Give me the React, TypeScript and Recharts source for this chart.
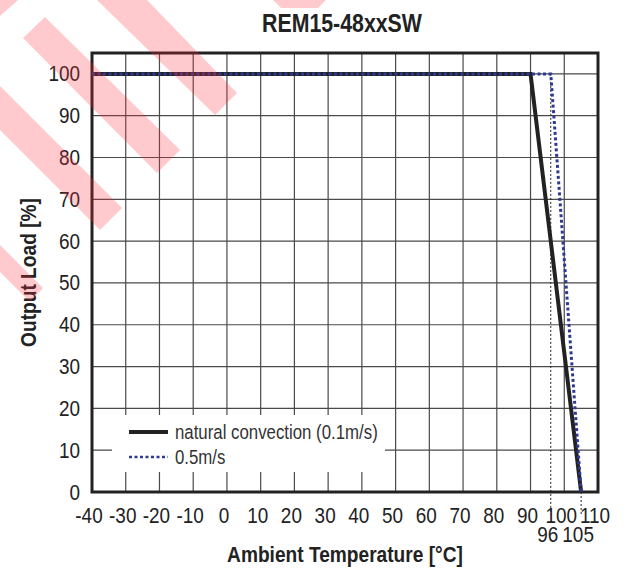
import React from 'react';
import {
  LineChart,
  Line,
  XAxis,
  YAxis,
  CartesianGrid,
  ReferenceLine,
  ReferenceArea,
  Legend,
  Label,
} from 'recharts';

// data
const naturalTemps = [-40, 90, 105];
const naturalLoad = [100, 100, 0];
const airflowTemps = [-40, 96, 105];
const airflowLoad = [100, 100, 0];

const xTicks = [-40, -30, -20, -10, 0, 10, 20, 30, 40, 50, 60, 70, 80, 90, 100, 110];
const yTicks = [0, 10, 20, 30, 40, 50, 60, 70, 80, 90, 100];
const markerTemps = [96, 105];
const markerTops = [100, 0];

const seriesNames = ['natural convection (0.1m/s)', '0.5m/s'];
const chartTitle = 'REM15-48xxSW';
const xTitle = 'Ambient Temperature [°C]';
const yTitle = 'Output Load [%]';

const naturalData = naturalTemps.map((t, i) => ({ temp: t, load: naturalLoad[i] }));
const airflowData = airflowTemps.map((t, i) => ({ temp: t, load: airflowLoad[i] }));

// no condensed face installed, so squeeze Liberation Sans horizontally
const FONT = '"Liberation Sans", Arial, sans-serif';
const INK = '#222';
const BLUE = '#2e3a92';

const Narrow = ({ x, y, size, bold, anchor = 'middle', rotate = false, squeeze = 0.82, children }: any) => (
  <text
    transform={`translate(${x} ${y})${rotate ? ' rotate(-90)' : ''} scale(${squeeze} 1)`}
    x={0}
    y={0}
    textAnchor={anchor}
    fontFamily={FONT}
    fontSize={size}
    fontWeight={bold ? 'bold' : 'normal'}
    fill={INK}
  >
    {children}
  </text>
);

const XTick = ({ x, y, payload }: any) => (
  <Narrow x={x - 3} y={y + 15} size={21.5} squeeze={0.88}>
    {payload.value}
  </Narrow>
);

const YTick = ({ x, y, payload }: any) => (
  <Narrow x={x} y={y + 7.5} size={21.5} squeeze={0.88} anchor="end">
    {payload.value}
  </Narrow>
);

const MarkerLabel = (value: number) => ({ viewBox }: any) => (
  <Narrow x={viewBox.x - 3} y={viewBox.y + viewBox.height + 27} size={21.5} squeeze={0.88}>
    {value}
  </Narrow>
);

const TitleLabel = ({ viewBox }: any) => (
  <Narrow x={viewBox.x + viewBox.width / 2 - 3} y={32} size={26} bold>
    {chartTitle}
  </Narrow>
);

const XTitle = ({ viewBox }: any) => (
  <Narrow x={viewBox.x + viewBox.width / 2} y={viewBox.y + 70} size={22} bold squeeze={0.87}>
    {xTitle}
  </Narrow>
);

const YTitle = ({ viewBox }: any) => (
  <Narrow x={36} y={viewBox.y + viewBox.height / 2} size={22} bold rotate squeeze={0.87}>
    {yTitle}
  </Narrow>
);

const legendText: React.CSSProperties = {
  marginLeft: 6,
  whiteSpace: 'nowrap',
  display: 'inline-block',
  transform: 'scaleX(0.82)',
  transformOrigin: 'left center',
};

const LegendBox = () => (
  <div style={{ background: '#fff', width: '100%', height: '100%', fontFamily: FONT, fontSize: 20.5, color: '#333' }}>
    <div style={{ position: 'absolute', left: 17, top: 4, display: 'flex', alignItems: 'center', height: 26 }}>
      <svg width={40} height={10}>
        <line x1={0} y1={5} x2={39} y2={5} stroke={INK} strokeWidth={4} />
      </svg>
      <span style={legendText}>{seriesNames[0]}</span>
    </div>
    <div style={{ position: 'absolute', left: 17, top: 29, display: 'flex', alignItems: 'center', height: 26 }}>
      <svg width={40} height={10}>
        <line x1={0} y1={5} x2={39} y2={5} stroke={BLUE} strokeWidth={2.5} strokeDasharray="3 2.5" />
      </svg>
      <span style={legendText}>{seriesNames[1]}</span>
    </div>
  </div>
);

// faint red watermark stripes in the top-left corner
const watermark = [
  '0,0 18,0 0,16',
  '97,0 147,0 237,93 215,115',
  '45,17 180,150 157,173 23,38',
  '0,86 122,208 100,230 0,130',
  '0,245 43,288 30,302 0,272',
  '273,0 326,0 318,8 281,8',
];

export default function App() {
  return (
    <div style={{ position: 'absolute', left: 0, top: 0, width: 627, height: 568, background: '#fff' }}>
      <LineChart width={627} height={568} margin={{ top: 53, right: 29, bottom: 46, left: 0 }}>
        <CartesianGrid stroke="#4a4a4a" strokeWidth={1.2} />
        <XAxis
          type="number"
          dataKey="temp"
          domain={[-40, 110]}
          ticks={xTicks}
          allowDataOverflow
          axisLine={false}
          tickLine={false}
          tickSize={0}
          tickMargin={16}
          height={30}
          tick={<XTick />}
          interval={0}
        >
          <Label content={<XTitle />} />
        </XAxis>
        <YAxis
          type="number"
          domain={[0, 105]}
          ticks={yTicks}
          allowDataOverflow
          axisLine={false}
          tickLine={false}
          tickSize={0}
          tickMargin={12}
          width={92}
          tick={<YTick />}
          interval={0}
        >
          <Label content={<YTitle />} />
        </YAxis>
        <ReferenceArea
          x1={-40}
          x2={110}
          y1={0}
          y2={105}
          fill="none"
          stroke={INK}
          strokeWidth={3}
          label={<TitleLabel />}
        />
        {markerTemps.map((t, i) => (
          <ReferenceLine
            key={t}
            segment={[
              { x: t, y: markerTops[i] },
              { x: t, y: -5.5 },
            ]}
            ifOverflow="visible"
            stroke={INK}
            strokeWidth={1}
            strokeDasharray="2 2"
            label={MarkerLabel(t)}
          />
        ))}
        <Line
          data={naturalData}
          dataKey="load"
          stroke={INK}
          strokeWidth={4}
          dot={false}
          isAnimationActive={false}
        />
        <Line
          data={airflowData}
          dataKey="load"
          stroke={BLUE}
          strokeWidth={3}
          strokeDasharray="3 2.5"
          dot={false}
          isAnimationActive={false}
        />
        <Legend
          layout="vertical"
          align="center"
          verticalAlign="middle"
          content={<LegendBox />}
          wrapperStyle={{ position: 'absolute', left: 112, top: 415, width: 273, height: 57 }}
        />
      </LineChart>
      <svg
        width={627}
        height={568}
        style={{ position: 'absolute', left: 0, top: 0, pointerEvents: 'none' }}
      >
        {watermark.map((pts, i) => (
          <polygon key={i} points={pts} fill="#ff2a3c" fillOpacity={0.25} />
        ))}
      </svg>
    </div>
  );
}
